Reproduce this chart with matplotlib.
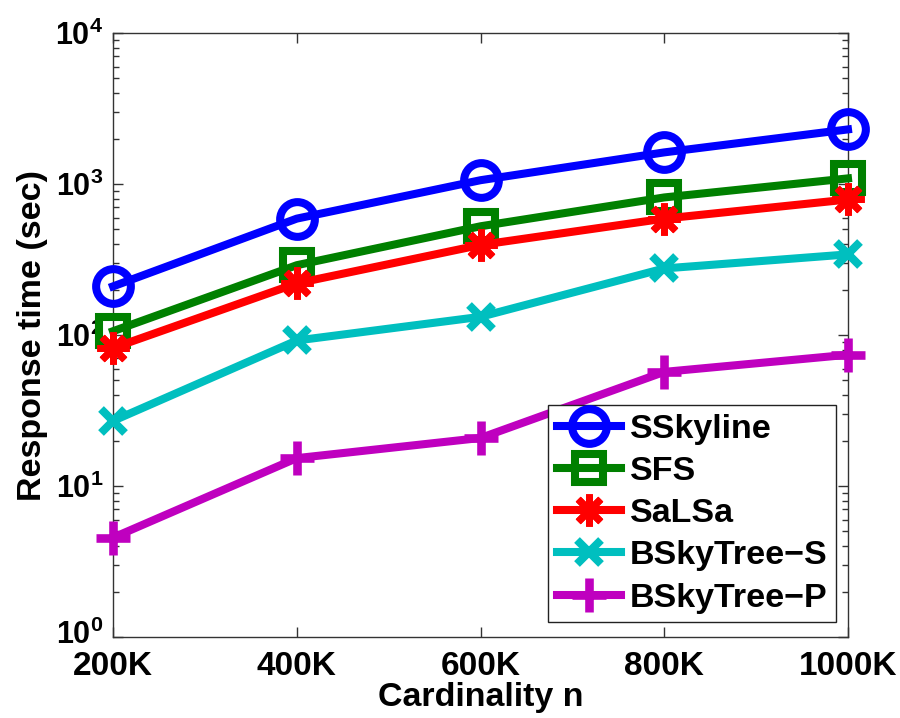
import matplotlib
matplotlib.use("Agg")
import matplotlib.pyplot as plt
from matplotlib import font_manager
from matplotlib.transforms import ScaledTranslation
from matplotlib.ticker import FixedLocator, FixedFormatter, LogLocator, NullFormatter

# Cardinality (thousands of tuples) and response time in seconds
cardinality = [200, 400, 600, 800, 1000]
x_tick_labels = ["200K", "400K", "600K", "800K", "1000K"]

sskyline = [210, 590, 1060, 1620, 2300]
sfs = [106, 290, 525, 815, 1090]
salsa = [82, 220, 395, 590, 790]
bskytree_s = [27, 92, 132, 276, 342]
bskytree_p = [4.55, 15.3, 20.8, 57, 74]

y_ticks = [1, 10, 100, 1000, 10000]
y_tick_labels = [r"$\mathbf{10^{0}}$", r"$\mathbf{10^{1}}$", r"$\mathbf{10^{2}}$",
                 r"$\mathbf{10^{3}}$", r"$\mathbf{10^{4}}$"]


def pick_font(candidates):
    for name in candidates:
        try:
            font_manager.findfont(font_manager.FontProperties(family=name),
                                  fallback_to_default=False)
            return name
        except Exception:
            continue
    return "DejaVu Sans"


main_font = pick_font(["Liberation Sans", "Arial", "DejaVu Sans"])

plt.rcParams["font.family"] = [main_font, "DejaVu Sans"]
plt.rcParams["font.weight"] = "bold"
plt.rcParams["mathtext.fontset"] = "custom"
plt.rcParams["mathtext.rm"] = main_font
plt.rcParams["mathtext.bf"] = main_font + ":bold"
plt.rcParams["mathtext.it"] = main_font + ":italic"

fig = plt.figure(figsize=(9.0, 7.18), dpi=100)
ax = fig.add_axes([0.1256, 0.1128, 0.8166, 0.8412])

series = [
    ("SSkyline", sskyline, "#0000ff", "o", 25, 5.8, "none"),
    ("SFS", sfs, "#008000", "s", 20, 5.8, "none"),
    ("SaLSa", salsa, "#ff0000", (8, 2, 0), 23, 5.0, "#ff0000"),
    ("BSkyTree\u2212S", bskytree_s, "#00bfbf", "x", 17, 5.8, "#00bfbf"),
    ("BSkyTree\u2212P", bskytree_p, "#bf00bf", "+", 24, 6.2, "#bf00bf"),
]

for label, values, color, marker, ms, mew, mfc in series:
    ax.plot(cardinality, values, color=color, linewidth=5.8, marker=marker,
            markersize=ms, markeredgewidth=mew, markerfacecolor=mfc,
            markeredgecolor=color, label=label, clip_on=False, zorder=3)

ax.set_yscale("log")
ax.set_xlim(200, 1000)
ax.set_ylim(1, 10000)

ax.xaxis.set_major_locator(FixedLocator(cardinality))
ax.xaxis.set_major_formatter(FixedFormatter(x_tick_labels))
ax.yaxis.set_major_locator(FixedLocator(y_ticks))
ax.yaxis.set_major_formatter(FixedFormatter(y_tick_labels))
ax.yaxis.set_minor_locator(LogLocator(base=10, subs=range(2, 10), numticks=20))
ax.yaxis.set_minor_formatter(NullFormatter())

ax.tick_params(axis="both", which="both", direction="in", top=True, right=True,
               color="#333333", width=1.0)
ax.tick_params(axis="both", which="major", length=7)
ax.tick_params(axis="y", which="minor", length=4)
ax.tick_params(axis="y", which="major", labelsize=22, pad=7)
ax.tick_params(axis="x", which="major", labelsize=24, pad=10)

for spine in ax.spines.values():
    spine.set_linewidth(1.0)
    spine.set_color("#333333")

ax.set_xlabel("Cardinality n", fontsize=24.5, fontweight="bold", labelpad=0)
ax.set_ylabel("Response time (sec)", fontsize=24.5, fontweight="bold",
              labelpad=5)

leg = ax.legend(loc="upper right", bbox_to_anchor=(0.9837, 0.384),
                borderaxespad=0, fontsize=24.5, handlelength=1.9,
                handletextpad=0.25, labelspacing=0.33, borderpad=0.25,
                fancybox=False, framealpha=1, edgecolor="#222222")
leg.get_frame().set_linewidth(1.0)
for t in leg.get_texts():
    t.set_fontweight("bold")

# lift the bottom y label a little so it clears the first x label
fig.canvas.draw()
bottom_label = ax.yaxis.get_major_ticks()[0].label1
bottom_label.set_transform(bottom_label.get_transform()
                           + ScaledTranslation(0, 4 / 72, fig.dpi_scale_trans))

fig.savefig("out.png", dpi=100, facecolor="white")
